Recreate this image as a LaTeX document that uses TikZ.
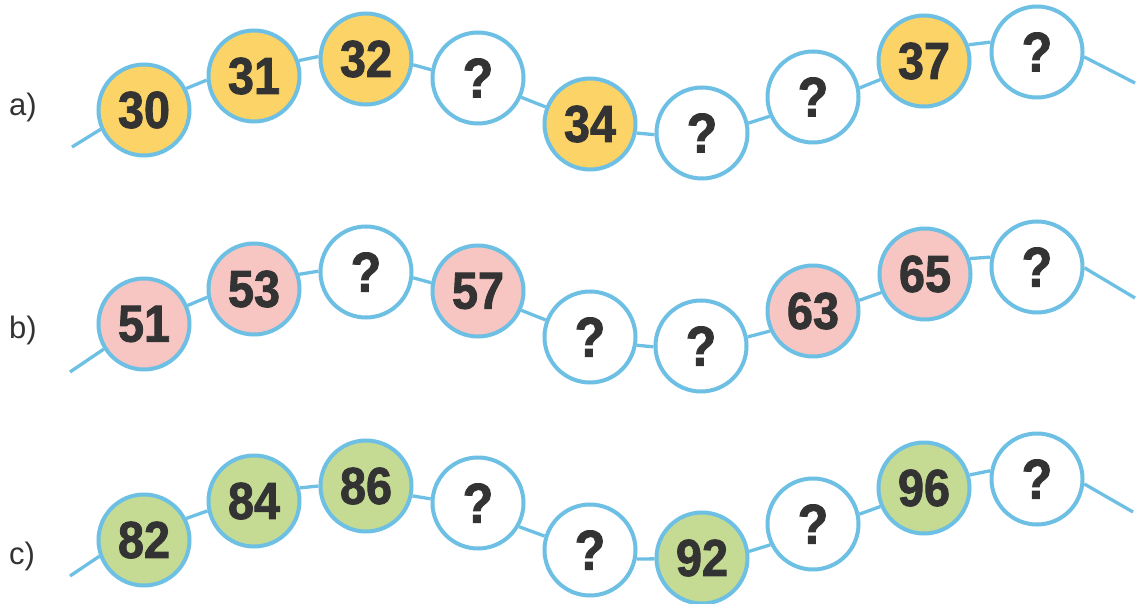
\documentclass[tikz,border=0pt]{standalone}
\usepackage{fontspec}
\setmainfont{Liberation Sans}
\newfontfamily\numfont[FakeStretch=0.9, BoldFeatures={FakeBold=1.6}]{Liberation Sans}
\definecolor{wire}{HTML}{6DC0E3}
\definecolor{yel}{HTML}{FCD366}
\definecolor{pnk}{HTML}{F7C6C3}
\definecolor{grn}{HTML}{C5DB94}
\definecolor{ink}{HTML}{333333}
\tikzset{
  bead/.style={circle, draw=wire, line width=4pt, minimum size=91pt, inner sep=0pt,
    font=\numfont\bfseries\fontsize{52}{52}\selectfont, text=ink},
  ask/.style={bead, fill=white, font=\numfont\bfseries\fontsize{56}{56}\selectfont},
  cord/.style={draw=wire, line width=3.3pt},
  rowlabel/.style={anchor=west, inner sep=0pt, text=ink, font=\fontsize{31}{31}\selectfont}
}
\begin{document}
\begin{tikzpicture}[x=1pt,y=-1pt]
\useasboundingbox (0,0) rectangle (1137,604);
% labels
\node[rowlabel] (la) at (9,107) {a)};
\node[rowlabel] (lb) at (9,330) {b)};
\node[rowlabel] (lc) at (9,556) {c)};
% row a
\node[bead, fill=yel] (a1) at (144,110) {30};
\node[bead, fill=yel] (a2) at (254,76) {31};
\node[bead, fill=yel] (a3) at (366,59) {32};
\node[ask] (a4) at (478,78) {?};
\node[bead, fill=yel] (a5) at (590,124) {34};
\node[ask] (a6) at (702,133) {?};
\node[ask] (a7) at (813,97) {?};
\node[bead, fill=yel] (a8) at (924,61) {37};
\node[ask] (a9) at (1037,52) {?};
\coordinate (as) at (72,147);
\coordinate (ae) at (1135,83);
\draw[cord] (as) -- (a1.204);
\draw[cord] (a1.27) -- (a2.185);
\draw[cord] (a2.19) -- (a3.177);
\draw[cord] (a3.353) -- (a4.170);
\draw[cord] (a4.336) -- (a5.159);
\draw[cord] (a5.349) -- (a6.182);
\draw[cord] (a6.12) -- (a7.204);
\draw[cord] (a7.11) -- (a8.203);
\draw[cord] (a8.20) -- (a9.168);
\draw[cord] (a9.354) -- (ae);
% row b
\node[bead, fill=pnk] (b1) at (144,324) {51};
\node[bead, fill=pnk] (b2) at (254,289) {53};
\node[ask] (b3) at (366,272) {?};
\node[bead, fill=pnk] (b4) at (478,291) {57};
\node[ask] (b5) at (590,337) {?};
\node[ask] (b6) at (701,346) {?};
\node[bead, fill=pnk] (b7) at (813,311) {63};
\node[bead, fill=pnk] (b8) at (925,274) {65};
\node[ask] (b9) at (1037,267) {?};
\coordinate (bs) at (70,372);
\coordinate (be) at (1135,298);
\draw[cord] (bs) -- (b1.212);
\draw[cord] (b1.23) -- (b2.190);
\draw[cord] (b2.18) -- (b3.179);
\draw[cord] (b3.353) -- (b4.170);
\draw[cord] (b4.336) -- (b5.159);
\draw[cord] (b5.350) -- (b6.181);
\draw[cord] (b6.11) -- (b7.205);
\draw[cord] (b7.13) -- (b8.203);
\draw[cord] (b8.19) -- (b9.168);
\draw[cord] (b9.359) -- (be);
% row c
\node[bead, fill=grn] (c1) at (144,540) {82};
\node[bead, fill=grn] (c2) at (254,501) {84};
\node[bead, fill=grn] (c3) at (366,486) {86};
\node[ask] (c4) at (478,503) {?};
\node[ask] (c5) at (590,550) {?};
\node[bead, fill=grn] (c6) at (702,558) {92};
\node[ask] (c7) at (813,524) {?};
\node[bead, fill=grn] (c8) at (924,488) {96};
\node[ask] (c9) at (1037,479) {?};
\coordinate (cs) at (70,576);
\coordinate (ce) at (1133,512);
\draw[cord] (cs) -- (c1.200);
\draw[cord] (c1.27) -- (c2.192);
\draw[cord] (c2.16) -- (c3.180);
\draw[cord] (c3.348) -- (c4.175);
\draw[cord] (c4.330) -- (c5.163);
\draw[cord] (c5.349) -- (c6.181);
\draw[cord] (c6.8) -- (c7.206);
\draw[cord] (c7.12) -- (c8.203);
\draw[cord] (c8.16) -- (c9.170);
\draw[cord] (c9.354) -- (ce);
\end{tikzpicture}
\end{document}
